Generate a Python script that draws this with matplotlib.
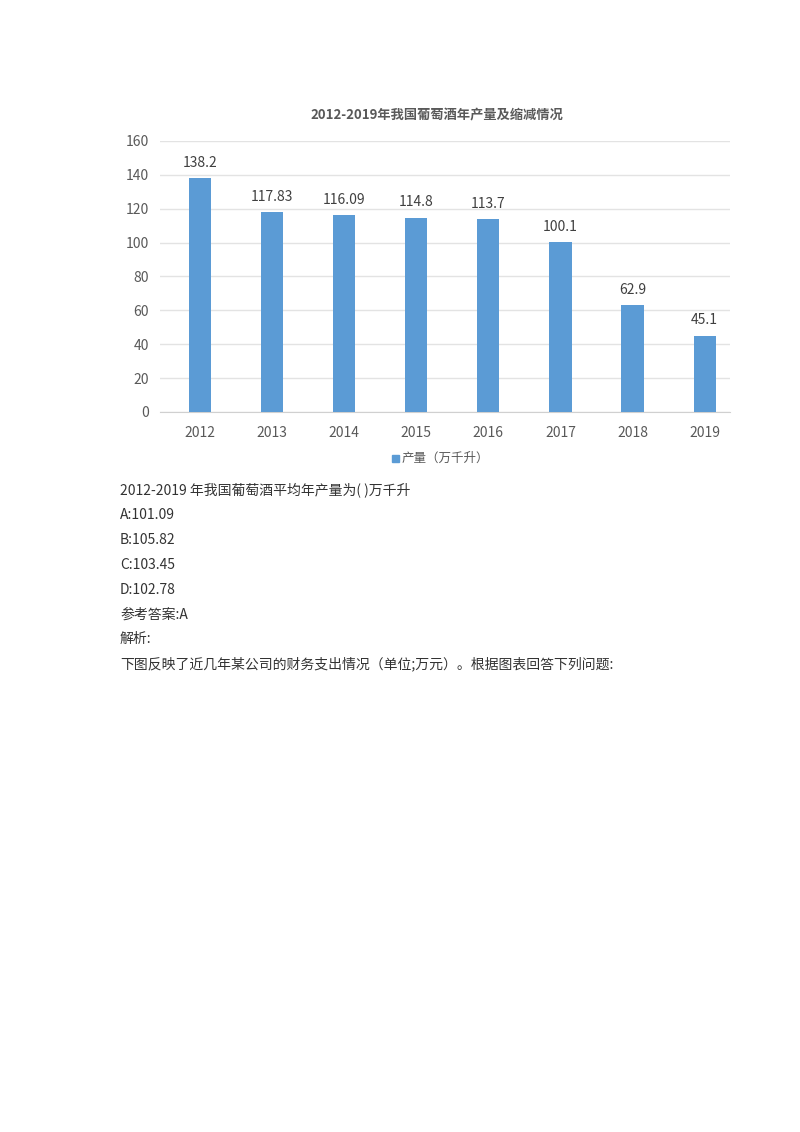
import matplotlib
matplotlib.use("Agg")
import matplotlib.pyplot as plt

plt.rcParams['font.family'] = ['Noto Sans CJK SC', 'DejaVu Sans']

years = ["2012", "2013", "2014", "2015", "2016", "2017", "2018", "2019"]
production = [138.2, 117.83, 116.09, 114.8, 113.7, 100.1, 62.9, 45.1]
value_labels = ["138.2", "117.83", "116.09", "114.8", "113.7", "100.1", "62.9", "45.1"]
yticks = [0, 20, 40, 60, 80, 100, 120, 140, 160]
title = "2012-2019年我国葡萄酒年产量及缩减情况"
legend_label = "产量（万千升）"
lines = [
    "2012-2019 年我国葡萄酒平均年产量为( )万千升",
    "A:101.09",
    "B:105.82",
    "C:103.45",
    "D:102.78",
    "参考答案:A",
    "解析:",
    "下图反映了近几年某公司的财务支出情况（单位;万元）。根据图表回答下列问题:",
]

W, H = 800, 1132
fig = plt.figure(figsize=(W / 100, H / 100), dpi=100)
fig.patch.set_facecolor("white")

ax = fig.add_axes([160 / W, 1 - 412 / H, (730 - 160) / W, (412 - 141) / H])
x = list(range(len(years)))
bars = ax.bar(x, production, width=0.31, color="#5B9BD5", zorder=3)
ax.set_xlim(-0.55, 7.35)
ax.set_ylim(0, 160)
ax.set_yticks(yticks)
ax.set_xticks(x)
ax.set_xticklabels(years)
ax.grid(axis="y", color="#e3e3e3", linewidth=1, zorder=0)
for s in ["top", "right", "left"]:
    ax.spines[s].set_visible(False)
ax.spines["bottom"].set_color("#d0d0d0")
ax.tick_params(axis="both", length=0, colors="#595959", labelsize=10)
ax.tick_params(axis="x", pad=10)
ax.tick_params(axis="y", pad=8)
for xi, v, lab in zip(x, production, value_labels):
    ax.annotate(lab, (xi, v), xytext=(0, 6), textcoords="offset points",
                ha="center", va="bottom", fontsize=10, color="#404040")

fig.text(437 / W, 1 - 115 / H, title, ha="center", va="center",
         fontsize=9.5, color="#595959", fontweight="bold")

# legend
fig.patches.append(plt.Rectangle((392 / W, 1 - 462 / H), 7 / W, 7 / H,
                                 transform=fig.transFigure, color="#5B9BD5"))
fig.text(402 / W, 1 - 458 / H, legend_label, ha="left", va="center",
         fontsize=9, color="#595959")

y0 = 490
for i, t in enumerate(lines):
    fig.text(120 / W, 1 - (y0 + i * 24.9) / H, t, ha="left", va="center",
             fontsize=10, color="#333333")

fig.savefig("out.png", dpi=100, facecolor="white")
